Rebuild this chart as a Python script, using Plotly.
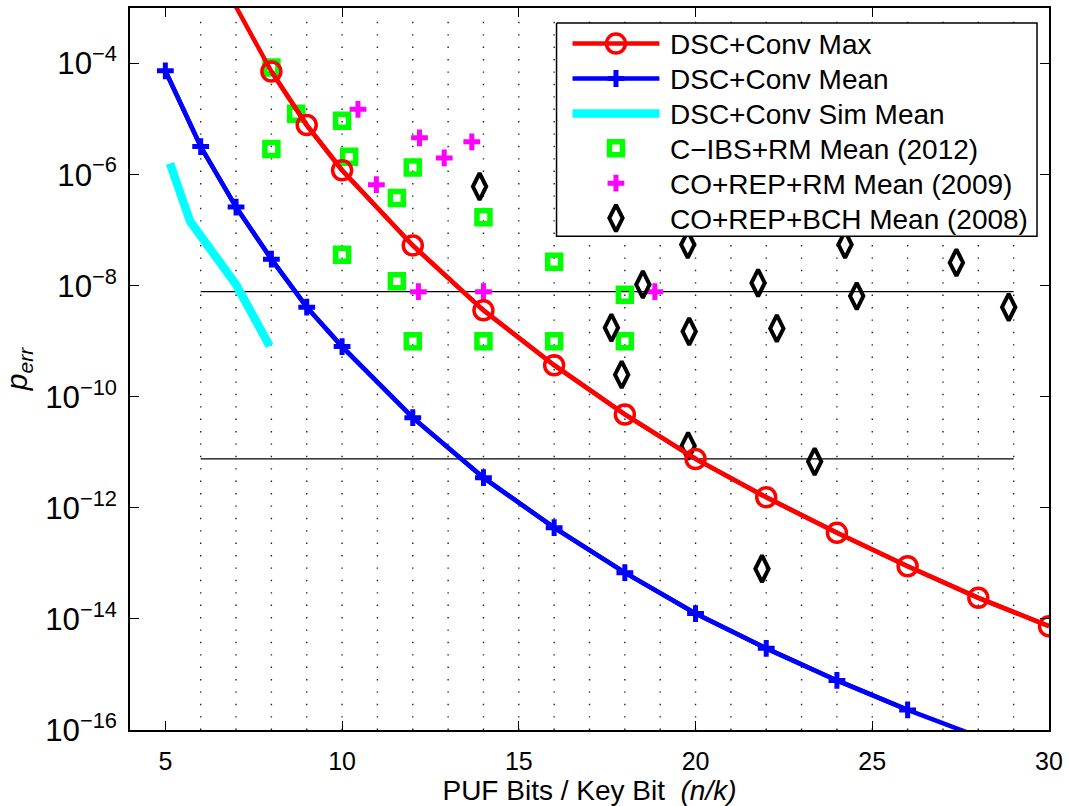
import plotly.graph_objects as go

# ---- data -------------------------------------------------------------
# DSC+Conv Max (first point has no marker, it only continues the curve)
max_x = [7, 8, 9, 10, 12, 14, 16, 18, 20, 22, 24, 26, 28, 30]
max_y = [1.05e-3, 7.2e-5, 7.8e-6, 1.2e-6, 5.3e-8, 3.6e-9, 3.7e-10, 4.8e-11,
         7.6e-12, 1.55e-12, 3.55e-13, 8.9e-14, 2.4e-14, 7.4e-15]

# DSC+Conv Mean (last point has no marker, it only continues the curve)
mean_x = [5, 6, 7, 8, 9, 10, 12, 14, 16, 18, 20, 22, 24, 26, 28]
mean_y = [7.4e-5, 3.2e-6, 2.6e-7, 3.0e-8, 4.1e-9, 8.0e-10, 4.2e-11, 3.5e-12,
          4.4e-13, 6.8e-14, 1.25e-14, 2.95e-15, 7.8e-16, 2.3e-16, 7.6e-17]

# DSC+Conv Sim Mean
sim_x = [5.13, 5.7, 7.0, 7.6, 7.95]
sim_y = [1.6e-6, 1.44e-7, 1.05e-8, 2.3e-9, 8.2e-10]

# C-IBS+RM Mean (2012)
cibs_x = [8.0, 8.7, 8.0, 10.0, 10.2, 10.0, 11.55, 11.55, 12.0, 14.0, 16.0, 18.0,
          12.0, 14.0, 16.0, 18.0]
cibs_y = [8.5e-5, 1.25e-5, 2.9e-6, 9.3e-6, 2.1e-6, 3.6e-8, 3.8e-7, 1.2e-8,
          1.35e-6, 1.7e-7, 2.7e-8, 6.9e-9, 1e-9, 1e-9, 1e-9, 1e-9]

# CO+REP+RM Mean (2009)
rm_x = [10.45, 10.97, 12.19, 12.89, 13.67, 12.16, 14.0, 18.85]
rm_y = [1.5e-5, 6.6e-7, 4.6e-6, 2.0e-6, 3.9e-6, 7.8e-9, 7.8e-9, 7.8e-9]

# CO+REP+BCH Mean (2008)
bch_x = [13.89, 19.78, 24.23, 27.38, 18.51, 21.77, 24.56, 28.86, 17.62, 19.82,
         22.30, 17.91, 19.79, 23.37, 21.88]
bch_y = [6.1e-7, 5.5e-8, 5.5e-8, 2.6e-8, 1.05e-8, 1.12e-8, 6.5e-9, 4.1e-9,
         1.75e-9, 1.5e-9, 1.7e-9, 2.5e-10, 1.3e-11, 6.8e-12, 8.0e-14]

# horizontal reference levels
ref_x = [6, 29]
ref_levels = [7.8e-9, 7.6e-12]

x_ticks = [5, 10, 15, 20, 25, 30]

# ---- styles -------------------------------------------------------------
FONT = "Liberation Sans, Arial, Helvetica, sans-serif"
RED, BLUE, CYAN = "#ff0000", "#0000ff", "#00ffff"
GREEN, MAGENTA, BLACK = "#00ff00", "#ff00ff", "#000000"

STY_MAX = dict(line=dict(color=RED, width=4.5),
               marker=dict(symbol="circle-open", size=19, color=RED,
                           line=dict(color=RED, width=3.5)))
STY_MEAN = dict(line=dict(color=BLUE, width=4.5),
                marker=dict(symbol="cross-thin-open", size=12, color=BLUE,
                            line=dict(color=BLUE, width=5)))
STY_SIM = dict(line=dict(color=CYAN, width=8.5))
STY_CIBS = dict(marker=dict(symbol="square-open", size=13, color=GREEN,
                            line=dict(color=GREEN, width=5.5)))
STY_RM = dict(marker=dict(symbol="cross-thin-open", size=12, color=MAGENTA,
                          line=dict(color=MAGENTA, width=5)))
STY_BCH = dict(marker=dict(symbol="diamond-tall-open", size=19, color=BLACK,
                           line=dict(color=BLACK, width=4)))

fig = go.Figure()

# reference levels
for lvl in ref_levels:
    fig.add_trace(go.Scatter(x=ref_x, y=[lvl, lvl], mode="lines",
                             line=dict(color=BLACK, width=1.3),
                             hoverinfo="skip"))

# published schemes (scatter only)
fig.add_trace(go.Scatter(x=cibs_x, y=cibs_y, mode="markers", **STY_CIBS))
fig.add_trace(go.Scatter(x=rm_x, y=rm_y, mode="markers", **STY_RM))
fig.add_trace(go.Scatter(x=bch_x, y=bch_y, mode="markers", **STY_BCH))

# simulated mean
fig.add_trace(go.Scatter(x=sim_x, y=sim_y, mode="lines", **STY_SIM))

# mean curve: full line, then markered points
fig.add_trace(go.Scatter(x=mean_x, y=mean_y, mode="lines", line=STY_MEAN["line"]))
fig.add_trace(go.Scatter(x=mean_x[:-1], y=mean_y[:-1], mode="lines+markers",
                         **STY_MEAN))

# max curve: full line, then markered points
fig.add_trace(go.Scatter(x=max_x, y=max_y, mode="lines", line=STY_MAX["line"]))
fig.add_trace(go.Scatter(x=max_x[1:], y=max_y[1:], mode="lines+markers",
                         **STY_MAX))

# ---- legend box, drawn on an overlay axis measured in pixels ---------------
legend_entries = [
    ("DSC+Conv Max", "lines+markers", STY_MAX),
    ("DSC+Conv Mean", "lines+markers", STY_MEAN),
    ("DSC+Conv Sim Mean", "lines", STY_SIM),
    ("C\u2212IBS+RM Mean (2012)", "markers", STY_CIBS),
    ("CO+REP+RM Mean (2009)", "markers", STY_RM),
    ("CO+REP+BCH Mean (2008)", "markers", STY_BCH),
]
box_l, box_r, box_t, box_b = 557, 1038, 21, 235
row0, row_step = 41.7, 35.0
sample_l, sample_r, text_x = 573, 660, 669

fig.add_trace(go.Scatter(
    x=[box_l, box_r, box_r, box_l, box_l], y=[box_t, box_t, box_b, box_b, box_t],
    mode="lines", fill="toself", fillcolor="white",
    line=dict(color=BLACK, width=1.5), xaxis="x2", yaxis="y2",
    hoverinfo="skip"))

annotations = []
for i, (label, mode, sty) in enumerate(legend_entries):
    ry = row0 + i * row_step
    if "lines" in mode:
        fig.add_trace(go.Scatter(x=[sample_l, sample_r], y=[ry, ry], mode="lines",
                                 line=sty["line"], xaxis="x2", yaxis="y2",
                                 hoverinfo="skip"))
    if "markers" in mode:
        fig.add_trace(go.Scatter(x=[(sample_l + sample_r) / 2], y=[ry],
                                 mode="markers", marker=sty["marker"],
                                 xaxis="x2", yaxis="y2", hoverinfo="skip"))
    annotations.append(dict(x=text_x, y=ry + 1, xref="x2", yref="y2",
                            text=label, showarrow=False, xanchor="left",
                            yanchor="middle",
                            font=dict(family=FONT, size=28, color=BLACK)))

# dotted vertical grid at every integer
shapes = []
for gx in range(6, 30):
    shapes.append(dict(type="line", xref="x", yref="paper", x0=gx, x1=gx,
                       y0=0, y1=0.982, layer="below",
                       line=dict(color="#222222", width=1.4,
                                 dash="1.4px,11px")))

fig.update_layout(
    width=1069, height=806,
    margin=dict(l=130, r=19, t=6, b=76),
    paper_bgcolor="white", plot_bgcolor="white",
    font=dict(family=FONT, size=25, color=BLACK),
    shapes=shapes, annotations=annotations,
    showlegend=False,
    xaxis=dict(range=[4, 30], tickmode="array", tickvals=x_ticks,
               ticks="inside", ticklen=9, tickwidth=1.3, tickcolor=BLACK,
               showline=True, linecolor=BLACK, linewidth=2, mirror="ticks",
               showgrid=False, zeroline=False, ticklabelstandoff=8,
               title=dict(text="PUF Bits / Key Bit  <i>(n/k)</i>",
                          font=dict(size=28), standoff=5)),
    yaxis=dict(type="log", range=[-16, -3], dtick=2, exponentformat="power",
               ticks="inside", ticklen=9, tickwidth=1.3, tickcolor=BLACK,
               showline=True, linecolor=BLACK, linewidth=2, mirror="ticks",
               showgrid=False, zeroline=False, ticklabelstandoff=6,
               title=dict(text="<i>p</i><sub><i>err</i></sub>",
                          font=dict(size=30), standoff=14)),
    xaxis2=dict(overlaying="x", anchor="y2", range=[130, 1050], visible=False,
                fixedrange=True),
    yaxis2=dict(overlaying="y", anchor="x2", range=[730, 6], visible=False,
                fixedrange=True),
)

fig.write_html("out.html")
